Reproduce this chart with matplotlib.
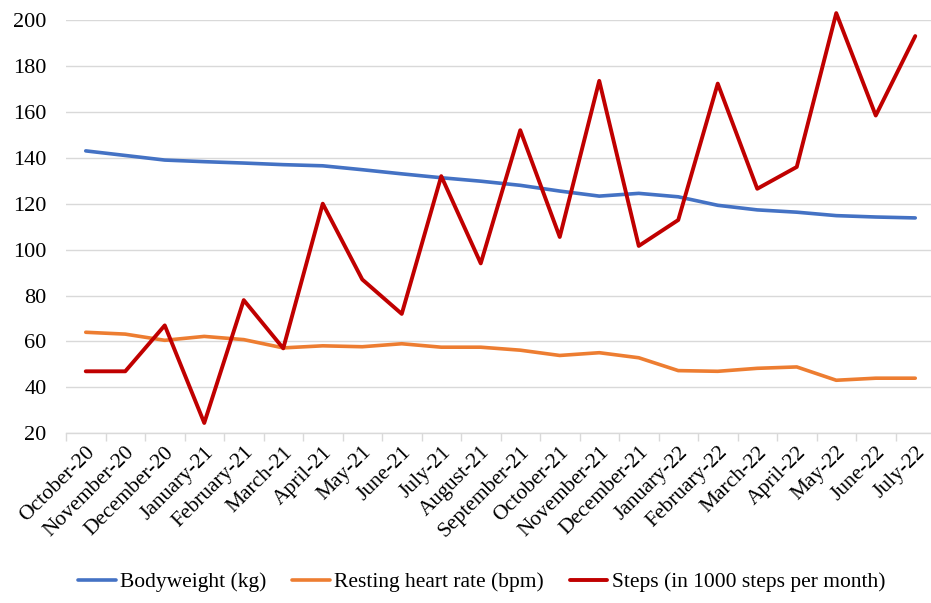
import matplotlib
matplotlib.use("Agg")
import matplotlib.pyplot as plt
import numpy as np

months = ["October-20", "November-20", "December-20", "January-21", "February-21",
          "March-21", "April-21", "May-21", "June-21", "July-21", "August-21",
          "September-21", "October-21", "November-21", "December-21", "January-22",
          "February-22", "March-22", "April-22", "May-22", "June-22", "July-22"]

bodyweight = [143, 141, 139, 138.3, 137.7, 137, 136.5, 134.8, 133, 131.3, 129.8,
              128, 125.5, 123.3, 124.5, 123, 119.3, 117.3, 116.3, 114.8, 114.2, 113.8]

resting_hr = [64, 63.2, 60.5, 62.2, 60.8, 57.2, 58.1, 57.7, 59, 57.5, 57.5,
              56.2, 53.9, 55.1, 52.9, 47.3, 47, 48.3, 48.9, 43.1, 44, 44]

steps = [47, 47, 67, 24.5, 78, 57, 120, 87, 72, 132, 94,
         152, 105.5, 173.5, 101.6, 112.9, 172.3, 126.5, 136, 203, 158.4, 193]

yticks = [20, 40, 60, 80, 100, 120, 140, 160, 180, 200]

plt.rcParams["font.family"] = ["Liberation Serif", "DejaVu Serif"]

fig = plt.figure(figsize=(9.31, 6.03), dpi=100)
W, H = 931, 603
ax = fig.add_axes([66 / W, 1 - 433.3 / H, (935 - 66) / W, (433.3 - 20) / H])

x = np.arange(len(months))
ax.plot(x, bodyweight, color="#4472C4", lw=2.6, label="Bodyweight (kg)",
        solid_capstyle="round", clip_on=False)
ax.plot(x, resting_hr, color="#ED7D31", lw=2.6, label="Resting heart rate (bpm)",
        solid_capstyle="round", clip_on=False)
ax.plot(x, steps, color="#C00000", lw=2.8, label="Steps (in 1000 steps per month)",
        solid_capstyle="round", clip_on=False)

ax.set_xlim(-0.5, len(months) - 0.5)
ax.set_ylim(20, 200)
ax.set_yticks(yticks)
ax.set_yticklabels([str(v) for v in yticks], fontsize=16)
ax.tick_params(axis="y", length=0, pad=14)
ax.grid(axis="y", color="#d9d9d9", lw=1)
ax.set_axisbelow(True)

ax.set_xticks(x)
ax.set_xticklabels(months, rotation=45, ha="right", rotation_mode="anchor", fontsize=15.5)
ax.tick_params(axis="x", which="major", length=0, pad=7)
ax.set_xticks(np.arange(-0.5, len(months), 1.0), minor=True)
ax.tick_params(axis="x", which="minor", length=6, color="#d9d9d9", width=1)

for side in ["top", "right", "left"]:
    ax.spines[side].set_visible(False)
ax.spines["bottom"].set_color("#d9d9d9")
ax.spines["bottom"].set_linewidth(1)

leg = fig.legend(loc="center", bbox_to_anchor=(481.5 / W, 1 - 582 / H), ncol=3, frameon=False,
                 fontsize=15.5, handlelength=1.75, handletextpad=0.2, columnspacing=1.2)

fig.savefig("out.png", dpi=100)
